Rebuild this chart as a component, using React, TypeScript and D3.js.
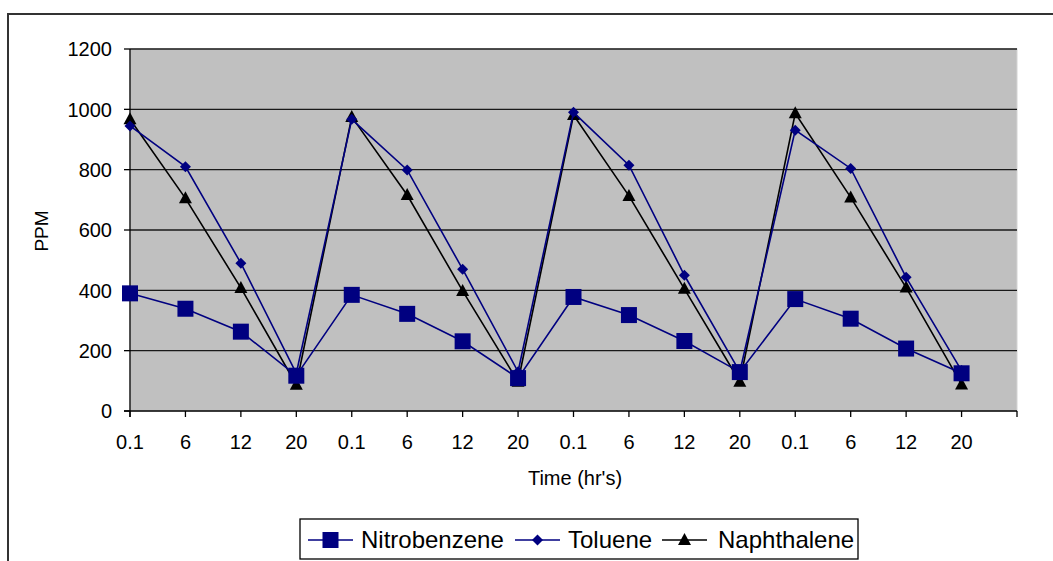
import React from 'react'
import * as d3 from 'd3'

// time labels, four repeated runs
const categories = ['0.1', '6', '12', '20', '0.1', '6', '12', '20', '0.1', '6', '12', '20', '0.1', '6', '12', '20']
const nitrobenzene = [390, 339, 263, 117, 385, 322, 231, 109, 378, 318, 232, 129, 371, 306, 207, 125]
const toluene = [945, 810, 490, 125, 967, 799, 470, 130, 990, 815, 450, 130, 931, 804, 443, 134]
const naphthalene = [967, 705, 408, 87, 975, 716, 398, 97, 981, 713, 405, 97, 987, 708, 409, 88]
const yTicks = [0, 200, 400, 600, 800, 1000, 1200]

const NAVY = '#000080'
const FONT = '"Liberation Sans", Arial, sans-serif'

const W = 1053
const H = 561
const plot = { left: 130, right: 1017, top: 49, bottom: 411 }

const Marker = ({ kind, x, y, color }: { kind: string; x: number; y: number; color: string }) => {
  if (kind === 'square') return <rect x={x - 8} y={y - 8} width={16} height={16} fill={color} />
  if (kind === 'diamond') return <path d={`M${x},${y - 5.5}L${x + 5.5},${y}L${x},${y + 5.5}L${x - 5.5},${y}Z`} fill={color} />
  return <path d={`M${x},${y - 7}L${x + 6.5},${y + 5}L${x - 6.5},${y + 5}Z`} fill={color} />
}

export default function App() {
  // one extra empty slot at the end, like the original axis
  const slots = d3.range(categories.length + 1)
  const x = d3.scalePoint<number>().domain(slots).range([plot.left, plot.right])
  const y = d3.scaleLinear().domain([0, 1200]).range([plot.bottom, plot.top])

  const series = [
    { name: 'Naphthalene', values: naphthalene, color: '#000000', kind: 'triangle' },
    { name: 'Toluene', values: toluene, color: NAVY, kind: 'diamond' },
    { name: 'Nitrobenzene', values: nitrobenzene, color: NAVY, kind: 'square' },
  ]

  const line = d3.line<number>().x((_, i) => x(i)!).y(d => y(d))

  const legend = [
    { name: 'Nitrobenzene', color: NAVY, kind: 'square', lx: 308, tx: 361 },
    { name: 'Toluene', color: NAVY, kind: 'diamond', lx: 515, tx: 568 },
    { name: 'Naphthalene', color: '#000000', kind: 'triangle', lx: 662, tx: 718 },
  ]

  return (
    <svg width={W} height={H} style={{ position: 'absolute', left: 0, top: 0, fontFamily: FONT }}>
      <rect x={0} y={0} width={W} height={H} fill="#ffffff" />
      {/* chart frame */}
      <rect x={8} y={14} width={W + 10} height={H + 10} fill="none" stroke="#333333" strokeWidth={2} />

      {/* plot area */}
      <rect x={plot.left} y={plot.top} width={plot.right - plot.left} height={plot.bottom - plot.top} fill="#c0c0c0" stroke="#d4d4d4" strokeWidth={1} />

      {yTicks.filter(t => t > 0).map(t => (
        <line key={t} x1={plot.left} x2={plot.right} y1={y(t)} y2={y(t)} stroke="#1a1a1a" strokeWidth={1.3} />
      ))}

      {/* axes */}
      <line x1={plot.left} x2={plot.left} y1={plot.top} y2={plot.bottom + 6} stroke="#000" strokeWidth={1.3} />
      <line x1={plot.left - 6} x2={plot.right} y1={plot.bottom} y2={plot.bottom} stroke="#000" strokeWidth={1.3} />
      {yTicks.map(t => (
        <g key={t}>
          <line x1={plot.left - 6} x2={plot.left} y1={y(t)} y2={y(t)} stroke="#000" strokeWidth={1.3} />
          <text x={112} y={y(t)} dy="0.36em" textAnchor="end" fontSize={20} fill="#000">{t}</text>
        </g>
      ))}
      {slots.map(i => (
        <g key={i}>
          <line x1={x(i)} x2={x(i)} y1={plot.bottom} y2={plot.bottom + 6} stroke="#000" strokeWidth={1.3} />
          {i < categories.length && (
            <text x={x(i)} y={449} textAnchor="middle" fontSize={20} fill="#000">{categories[i]}</text>
          )}
        </g>
      ))}

      <text x={575} y={485} textAnchor="middle" fontSize={20} fill="#000">Time (hr's)</text>
      <text transform={`translate(48, 231) rotate(-90)`} textAnchor="middle" fontSize={19} fill="#000">PPM</text>

      {/* series */}
      {series.map(s => (
        <g key={s.name}>
          <path d={line(s.values) || ''} fill="none" stroke={s.color} strokeWidth={1.6} />
          {s.values.map((v, i) => (
            <Marker key={i} kind={s.kind} x={x(i)!} y={y(v)} color={s.color} />
          ))}
        </g>
      ))}

      {/* legend */}
      <rect x={300} y={519} width={558} height={40} fill="#ffffff" stroke="#000" strokeWidth={1.3} />
      {legend.map(l => (
        <g key={l.name}>
          <line x1={l.lx} x2={l.lx + 45} y1={540} y2={540} stroke={l.color} strokeWidth={1.6} />
          <Marker kind={l.kind} x={l.lx + 22.5} y={540} color={l.color} />
          <text x={l.tx} y={548} fontSize={24} fill="#000">{l.name}</text>
        </g>
      ))}
    </svg>
  )
}
